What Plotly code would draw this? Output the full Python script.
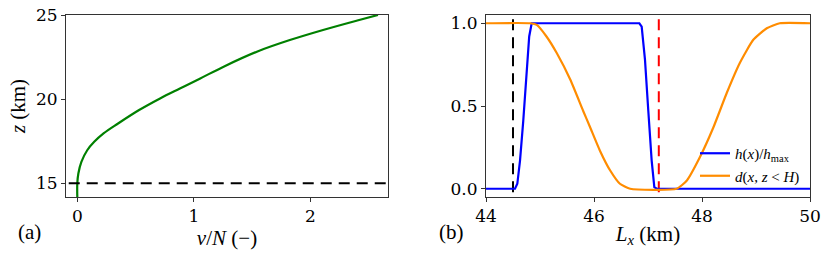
import plotly.graph_objects as go

# ---- panel (a): damping profile ----
z_km = [14.18, 15.0, 15.58, 16.27, 16.96, 17.46, 17.96, 18.55, 19.35, 20.04,
        20.63, 21.23, 21.93, 22.82, 23.51, 24.11, 24.66, 25.0]
nu_over_N = [0.0, 0.0, 0.009, 0.035, 0.085, 0.145, 0.225, 0.35, 0.53, 0.71,
             0.88, 1.055, 1.255, 1.54, 1.823, 2.108, 2.394, 2.579]
z_H = 15.0

# ---- panel (b): orography and damping mask ----
h_x = [44.0, 44.537, 44.58, 44.63, 44.69, 44.75, 44.80, 44.846, 46.84, 46.883,
       46.944, 47.006, 47.068, 47.117, 47.16, 50.0]
h_val = [0.0, 0.0, 0.03, 0.17, 0.41, 0.68, 0.92, 1.0, 1.0, 0.98,
         0.78, 0.47, 0.17, 0.01, 0.0, 0.0]
d_x = [44.0, 44.82, 44.94, 45.12, 45.31, 45.56, 45.80, 45.93, 46.11, 46.30,
       46.48, 46.67, 47.53, 47.72, 47.96, 48.21, 48.46, 48.70, 48.95, 49.20,
       49.44, 50.0]
d_val = [1.0, 1.0, 0.99, 0.92, 0.82, 0.66, 0.47, 0.37, 0.23, 0.11,
         0.03, 0.0, 0.0, 0.05, 0.19, 0.37, 0.58, 0.76, 0.90, 0.97,
         1.0, 1.0]
x_left_line = 44.5
x_right_line = 47.2

W, H = 830, 257
SERIF = "DejaVu Serif"
TSERIF = "Liberation Serif"
TICKFONT = dict(family=SERIF, size=17, color="black")
LABFONT = dict(family=TSERIF, size=21, color="black")

fig = go.Figure()

fig.add_trace(go.Scatter(x=nu_over_N, y=z_km, mode="lines",
                         line=dict(color="green", width=2.2, shape="spline", smoothing=1.0),
                         showlegend=False, xaxis="x", yaxis="y"))
fig.add_trace(go.Scatter(x=[-1, 3], y=[z_H, z_H], mode="lines",
                         line=dict(color="black", width=2, dash="11px,7px"),
                         showlegend=False, xaxis="x", yaxis="y"))

fig.add_trace(go.Scatter(x=[x_left_line, x_left_line], y=[-1, 2], mode="lines",
                         line=dict(color="black", width=2, dash="11px,7px"),
                         showlegend=False, xaxis="x2", yaxis="y2"))
fig.add_trace(go.Scatter(x=[x_right_line, x_right_line], y=[-1, 2], mode="lines",
                         line=dict(color="red", width=2, dash="11px,7px"),
                         showlegend=False, xaxis="x2", yaxis="y2"))
fig.add_trace(go.Scatter(x=h_x, y=h_val, mode="lines",
                         line=dict(color="blue", width=2.2),
                         name="<i>h</i>(<i>x</i>)/<i>h</i><sub>max</sub>",
                         xaxis="x2", yaxis="y2"))
fig.add_trace(go.Scatter(x=d_x, y=d_val, mode="lines",
                         line=dict(color="darkorange", width=2.2, shape="spline", smoothing=0.5),
                         name="<i>d</i>(<i>x</i>, <i>z</i> &lt; <i>H</i>)",
                         xaxis="x2", yaxis="y2"))

axis_common = dict(showgrid=False, zeroline=False, showline=True, mirror=True,
                   linecolor="#333", linewidth=1, ticks="outside", ticklen=4,
                   tickcolor="#333", tickfont=TICKFONT)

fig.update_layout(
    width=W, height=H,
    font=dict(family=TSERIF),
    margin=dict(l=0, r=0, t=15, b=60, autoexpand=False),
    paper_bgcolor="white", plot_bgcolor="white",
    xaxis=dict(domain=[66 / W, 388 / W], range=[-0.097, 2.665],
               tickvals=[0, 1, 2], anchor="y", automargin=False,
               title=dict(text="<i>ν</i>/<i>N</i> (−)", font=LABFONT, standoff=0),
               **axis_common),
    yaxis=dict(domain=[0, 1], range=[14.18, 25], tickvals=[15, 20, 25], anchor="x",
               automargin=False,
               title=dict(text="<i>z</i> (km)", font=LABFONT, standoff=4),
               **axis_common),
    xaxis2=dict(domain=[486 / W, 810 / W], range=[44, 50], automargin=False,
                tickvals=[44, 46, 48, 50], anchor="y2",
                title=dict(text="<i>L<sub>x</sub></i> (km)", font=LABFONT, standoff=0),
                **axis_common),
    yaxis2=dict(domain=[0, 1], range=[-0.05, 1.05], tickvals=[0, 0.5, 1.0],
                tickformat=".1f", anchor="x2", automargin=False, **axis_common),
    legend=dict(x=(695) / W, y=1 - (137 - 15) / 182, xanchor="left", yanchor="top",
                bgcolor="rgba(0,0,0,0)", borderwidth=0,
                font=dict(family=TSERIF, size=15, color="black"),
                tracegroupgap=0),
    annotations=[
        dict(text="(a)", x=16 / W, y=-(232 - 197) / 182, xref="paper", yref="paper",
             xanchor="left", yanchor="middle", showarrow=False, font=LABFONT),
        dict(text="(b)", x=437 / W, y=-(232 - 197) / 182, xref="paper", yref="paper",
             xanchor="left", yanchor="middle", showarrow=False, font=LABFONT),
    ],
)

fig.write_html("out.html", config={"displayModeBar": False},
               post_script="document.body.style.margin='0';")
